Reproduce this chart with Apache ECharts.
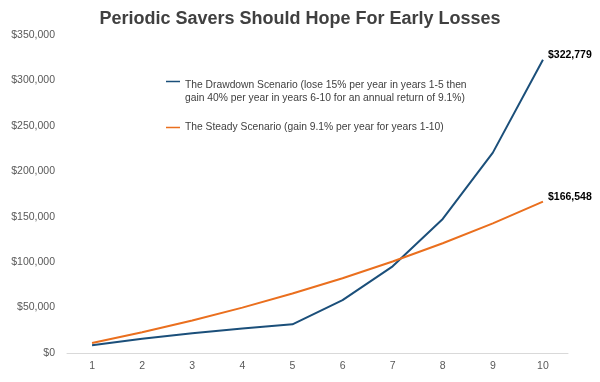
<!DOCTYPE html>
<html>
<head>
<meta charset="utf-8">
<script src="https://cdn.jsdelivr.net/npm/echarts@6/dist/echarts.min.js"></script>
<style>html,body{margin:0;padding:0;background:#fff}#c{width:600px;height:382px}</style>
</head>
<body>
<div id="c"></div>
<script>
var years = ['1','2','3','4','5','6','7','8','9','10'];
var drawdown = [8500, 15725, 21866, 27086, 31523, 58132, 95385, 147539, 220555, 322779];
var steady = [10910, 22813, 35799, 49967, 65424, 82288, 100686, 120758, 142657, 166548];
var drawdownName = 'The Drawdown Scenario (lose 15% per year in years 1-5 then\ngain 40% per year in years 6-10 for an annual return of 9.1%)';
var steadyName = 'The Steady Scenario (gain 9.1% per year for years 1-10)';
var titleText = 'Periodic Savers Should Hope For Early Losses';

function fmt(v){ return '$' + Math.round(v).toString().replace(/\B(?=(\d{3})+(?!\d))/g, ','); }

function lastLabel(arr){
  return arr.map(function(v,i){
    if(i === arr.length-1){
      return {value:v, label:{show:true, position:'right', distance:5, offset:[0,-5], formatter:function(p){return fmt(p.value);}, color:'#000', fontSize:10.5, fontWeight:'bold', fontFamily:'Liberation Sans'}};
    }
    return v;
  });
}

var chart = echarts.init(document.getElementById('c'), null, {renderer:'canvas'});
chart.setOption({
  animation:false,
  backgroundColor:'#fff',
  title:{text:titleText, left:'center', top:5, textStyle:{fontFamily:'Liberation Sans', fontSize:18, fontWeight:'bold', color:'#404040'}},
  grid:{left:67, right:32, top:35, bottom:29},
  legend:{
    orient:'vertical', left:161, top:74, itemGap:16,
    itemWidth:14, itemHeight:24,
    textStyle:{fontFamily:'Liberation Sans', fontSize:10.3, color:'#404040', lineHeight:13},
    data:[
      {name:drawdownName, icon:'path://M0,0L15,0L15,1.6L0,1.6Z M0,24L0.01,24L0.01,24.01Z'},
      {name:steadyName, icon:'path://M0,0L15,0L15,1.6L0,1.6Z M0,1.61L0.01,1.61Z'}
    ]
  },
  xAxis:{
    type:'category', data:years, boundaryGap:true,
    axisLine:{lineStyle:{color:'#d9d9d9'}}, axisTick:{show:false},
    axisLabel:{color:'#595959', fontFamily:'Liberation Sans', fontSize:10.5, margin:8}
  },
  yAxis:{
    type:'value', min:0, max:350000, interval:50000,
    splitLine:{show:false}, axisLine:{show:false}, axisTick:{show:false},
    axisLabel:{color:'#595959', fontFamily:'Liberation Sans', fontSize:10.5, margin:12, formatter:function(v){return fmt(v);}}
  },
  series:[
    {name:drawdownName, type:'line', data:lastLabel(drawdown), symbol:'circle', symbolSize:0, showSymbol:true, lineStyle:{color:'#1b4f7a', width:2}, itemStyle:{color:'#1b4f7a'}},
    {name:steadyName, type:'line', data:lastLabel(steady), symbol:'circle', symbolSize:0, showSymbol:true, lineStyle:{color:'#ea6f1e', width:2}, itemStyle:{color:'#ea6f1e'}}
  ]
});
</script>
</body>
</html>
